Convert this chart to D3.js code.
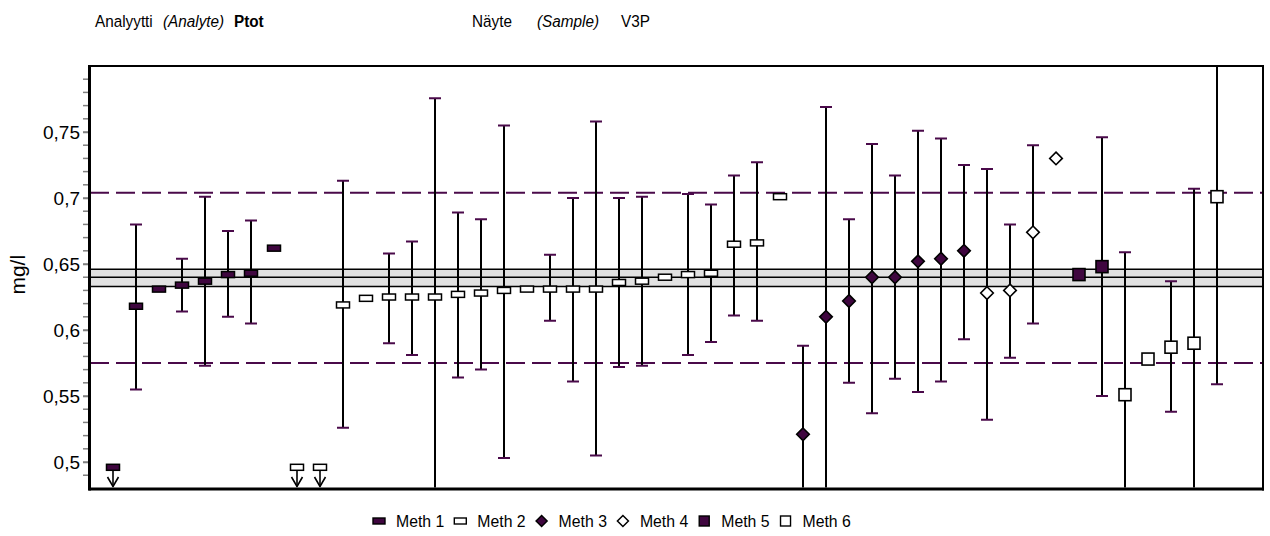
<!DOCTYPE html>
<html>
<head>
<meta charset="utf-8">
<script src="https://cdn.jsdelivr.net/npm/d3@7/dist/d3.min.js"></script>
<style>
  html, body { margin: 0; padding: 0; background: #ffffff; }
  svg { display: block; font-family: "Liberation Sans", Arial, sans-serif; }
</style>
</head>
<body>
<svg id="chart" width="1270" height="536"></svg>
<script>
// Proficiency test results, analyte Ptot, sample V3P (mg/l)
const labOrder = d3.range(1, 50);
const methods = [
  1, 1, 1, 1, 1, 1, 1, 1,
  2, 2, 2, 2, 2, 2, 2, 2, 2, 2, 2, 2, 2, 2, 2, 2, 2, 2, 2, 2, 2, 2,
  3, 3, 3, 3, 3, 3, 3, 3,
  4, 4, 4, 4,
  5, 5,
  6, 6, 6, 6, 6
];
const results = [
  0.496, 0.618, 0.631, 0.634, 0.637, 0.642, 0.643, 0.662,
  0.496, 0.496, 0.619, 0.624, 0.625, 0.625, 0.625, 0.627, 0.628, 0.630, 0.631, 0.631,
  0.631, 0.631, 0.636, 0.637, 0.640, 0.642, 0.643, 0.665, 0.666, 0.701,
  0.521, 0.610, 0.622, 0.640, 0.640, 0.652, 0.654, 0.660,
  0.628, 0.630, 0.674, 0.730,
  0.642, 0.648,
  0.551, 0.578, 0.587, 0.590, 0.701
];
// reported as "less than" the quantification limit
const belowLimit = [
  true, false, false, false, false, false, false, false,
  true, true, false, false, false, false, false, false, false, false, false, false,
  false, false, false, false, false, false, false, false, false, false,
  false, false, false, false, false, false, false, false,
  false, false, false, false,
  false, false,
  false, false, false, false, false
];
const lowerLimits = [
  null, 0.555, null, 0.614, 0.573, 0.610, 0.605, null,
  null, null, 0.526, null, 0.590, 0.581, 0.475, 0.564, 0.570, 0.503, null, 0.607,
  0.561, 0.505, 0.572, 0.573, null, 0.581, 0.591, 0.611, 0.607, null,
  0.454, 0.451, 0.560, 0.537, 0.563, 0.553, 0.561, 0.593,
  0.532, 0.579, 0.605, null,
  null, 0.550,
  0.443, null, 0.538, 0.473, 0.559
];
const upperLimits = [
  null, 0.680, null, 0.654, 0.701, 0.675, 0.683, null,
  null, null, 0.713, null, 0.658, 0.667, 0.7755, 0.689, 0.684, 0.755, null, 0.657,
  0.700, 0.758, 0.700, 0.701, null, 0.703, 0.695, 0.717, 0.727, null,
  0.588, 0.769, 0.684, 0.741, 0.717, 0.751, 0.745, 0.725,
  0.722, 0.680, 0.740, null,
  null, 0.746,
  0.659, null, 0.637, 0.707, 0.843
];
const assignedValue = 0.640;
const assignedBand = [0.633, 0.646];
const acceptanceLimits = [0.575, 0.704];
const yTickValues = [0.5, 0.55, 0.6, 0.65, 0.7, 0.75];
const methodNames = ["Meth 1", "Meth 2", "Meth 3", "Meth 4", "Meth 5", "Meth 6"];

const PURPLE = "#4a0a4a";
const FILL = "#3f063f";

const svg = d3.select("#chart");
const plot = { left: 90, right: 1263, top: 66, bottom: 487.5 };

const x = d3.scaleLinear().domain([0, 51]).range([plot.left, plot.right]);
const y = d3.scaleLinear().domain([0.4807, 0.8]).range([plot.bottom, plot.top]);

// header (slightly condensed lettering)
function headerText(xPos, str, style) {
  const t = svg.append("text")
    .attr("transform", `translate(${xPos},27) scale(0.9,1)`)
    .attr("font-size", 17).attr("fill", "#000").text(str);
  if (style === "italic") t.attr("font-style", "italic");
  if (style === "bold") t.attr("font-weight", "bold");
}
headerText(95, "Analyytti");
headerText(163, "(Analyte)", "italic");
headerText(234, "Ptot", "bold");
headerText(472, "Näyte");
headerText(537, "(Sample)", "italic");
headerText(621, "V3P");

svg.append("defs").append("clipPath").attr("id", "plotClip")
  .append("rect")
  .attr("x", plot.left).attr("y", plot.top)
  .attr("width", plot.right - plot.left).attr("height", plot.bottom - plot.top);

const g = svg.append("g").attr("clip-path", "url(#plotClip)");

// uncertainty band of the assigned value
g.append("rect")
  .attr("x", plot.left).attr("width", plot.right - plot.left)
  .attr("y", y(assignedBand[1])).attr("height", y(assignedBand[0]) - y(assignedBand[1]))
  .attr("fill", "#e1e1e1");
[assignedBand[0], assignedValue, assignedBand[1]].forEach(v => {
  g.append("line")
    .attr("x1", plot.left).attr("x2", plot.right)
    .attr("y1", y(v)).attr("y2", y(v))
    .attr("stroke", "#000").attr("stroke-width", 1.6);
});

// acceptance limits
acceptanceLimits.forEach(v => {
  g.append("line")
    .attr("x1", plot.left).attr("x2", plot.right)
    .attr("y1", y(v)).attr("y2", y(v))
    .attr("stroke", PURPLE).attr("stroke-width", 2)
    .attr("stroke-dasharray", "19,7");
});

const data = labOrder.map((id, i) => ({
  id, method: methods[i], value: results[i], below: belowLimit[i],
  lo: lowerLimits[i], hi: upperLimits[i]
}));

// error bars
const withBars = data.filter(d => d.lo !== null && d.hi !== null);
g.selectAll("line.bar").data(withBars).join("line")
  .attr("class", "bar")
  .attr("x1", d => x(d.id)).attr("x2", d => x(d.id))
  .attr("y1", d => y(d.lo)).attr("y2", d => y(d.hi))
  .attr("stroke", "#000").attr("stroke-width", 2);

const caps = [];
withBars.forEach(d => {
  [d.lo, d.hi].forEach(v => {
    if (v > y.domain()[0] && v < y.domain()[1]) caps.push({ id: d.id, v });
  });
});
g.selectAll("line.cap").data(caps).join("line")
  .attr("class", "cap")
  .attr("x1", d => x(d.id) - 6).attr("x2", d => x(d.id) + 6)
  .attr("y1", d => y(d.v)).attr("y2", d => y(d.v))
  .attr("stroke", PURPLE).attr("stroke-width", 2);

// "less than" arrows
data.filter(d => d.below).forEach(d => {
  const cx = x(d.id), top = y(d.value) + 3, tip = plot.bottom - 1;
  g.append("line").attr("x1", cx).attr("x2", cx).attr("y1", top).attr("y2", tip)
    .attr("stroke", "#000").attr("stroke-width", 1.6);
  g.append("path")
    .attr("d", `M${cx - 5.5},${tip - 9.5}L${cx},${tip}L${cx + 5.5},${tip - 9.5}`)
    .attr("fill", "none").attr("stroke", "#000").attr("stroke-width", 1.6);
});

// marker shapes per method
function drawMarker(sel, method) {
  if (method === 1 || method === 2) {
    sel.append("rect").attr("x", -6.5).attr("y", -3).attr("width", 13).attr("height", 6)
      .attr("fill", method === 1 ? FILL : "#fff").attr("stroke", "#000").attr("stroke-width", 1.5);
  } else if (method === 3 || method === 4) {
    sel.append("path").attr("d", "M0,-6.3L6.3,0L0,6.3L-6.3,0Z")
      .attr("fill", method === 3 ? FILL : "#fff").attr("stroke", "#000").attr("stroke-width", 1.6);
  } else {
    sel.append("rect").attr("x", -6).attr("y", -6).attr("width", 12).attr("height", 12)
      .attr("fill", method === 5 ? FILL : "#fff").attr("stroke", "#000").attr("stroke-width", 1.6);
  }
}

g.selectAll("g.pt").data(data).join("g")
  .attr("class", "pt")
  .attr("transform", d => `translate(${x(d.id)},${y(d.value)})`)
  .each(function (d) { drawMarker(d3.select(this), d.method); });

// y axis with minor ticks
const minorTicks = d3.range(49, 80).map(k => k / 100);
svg.append("g").selectAll("line").data(minorTicks).join("line")
  .attr("x1", plot.left - 7).attr("x2", plot.left - 1)
  .attr("y1", d => y(d)).attr("y2", d => y(d))
  .attr("stroke", "#808080").attr("stroke-width", 1.5);

const yAxis = d3.axisLeft(y).tickValues(yTickValues)
  .tickFormat(d => d3.format(".2~f")(d).replace(".", ","))
  .tickSize(7).tickPadding(3);
const axisG = svg.append("g").attr("transform", `translate(${plot.left},0)`).call(yAxis);
axisG.select(".domain").remove();
axisG.selectAll(".tick line").attr("stroke", "#808080").attr("stroke-width", 1.5);
axisG.selectAll(".tick text").attr("font-size", 19).attr("fill", "#000")
  .attr("font-family", "'Liberation Sans', Arial, sans-serif");

// frame
svg.append("line").attr("x1", plot.left).attr("x2", plot.right + 1)
  .attr("y1", plot.top).attr("y2", plot.top).attr("stroke", "#000").attr("stroke-width", 2);
svg.append("line").attr("x1", plot.right).attr("x2", plot.right)
  .attr("y1", plot.top).attr("y2", plot.bottom + 3).attr("stroke", "#000").attr("stroke-width", 2);
svg.append("line").attr("x1", plot.left - 1.5).attr("x2", plot.right + 1)
  .attr("y1", plot.bottom + 1.5).attr("y2", plot.bottom + 1.5).attr("stroke", "#000").attr("stroke-width", 3);
svg.append("line").attr("x1", plot.left - 0.5).attr("x2", plot.left - 0.5)
  .attr("y1", plot.top - 1).attr("y2", plot.bottom + 3).attr("stroke", "#000").attr("stroke-width", 3);

// y axis title
svg.append("text")
  .attr("transform", `translate(25,${(plot.top + plot.bottom) / 2 - 2}) rotate(-90)`)
  .attr("text-anchor", "middle").attr("font-size", 21).text("mg/l");

// legend
let cursor = 373;
const legend = svg.append("g");
methodNames.forEach((name, i) => {
  const item = legend.append("g");
  const sym = item.append("g").attr("transform", `translate(${cursor + 6},521)`);
  if (i < 2) {
    sym.append("rect").attr("x", -6).attr("y", -3).attr("width", 12).attr("height", 6)
      .attr("fill", i === 0 ? FILL : "#fff").attr("stroke", "#000").attr("stroke-width", 1.4);
  } else if (i < 4) {
    sym.append("path").attr("d", "M0,-5.5L5.5,0L0,5.5L-5.5,0Z")
      .attr("fill", i === 2 ? FILL : "#fff").attr("stroke", "#000").attr("stroke-width", 1.5);
  } else {
    sym.append("rect").attr("x", -5).attr("y", -5).attr("width", 10).attr("height", 10)
      .attr("fill", i === 4 ? FILL : "#fff").attr("stroke", "#000").attr("stroke-width", 1.4);
  }
  const t = item.append("text")
    .attr("transform", `translate(${cursor + 23},527) scale(0.93,1)`)
    .attr("font-size", 17).text(name);
  cursor = cursor + 23 + t.node().getComputedTextLength() * 0.93 + 10;
});
</script>
</body>
</html>
